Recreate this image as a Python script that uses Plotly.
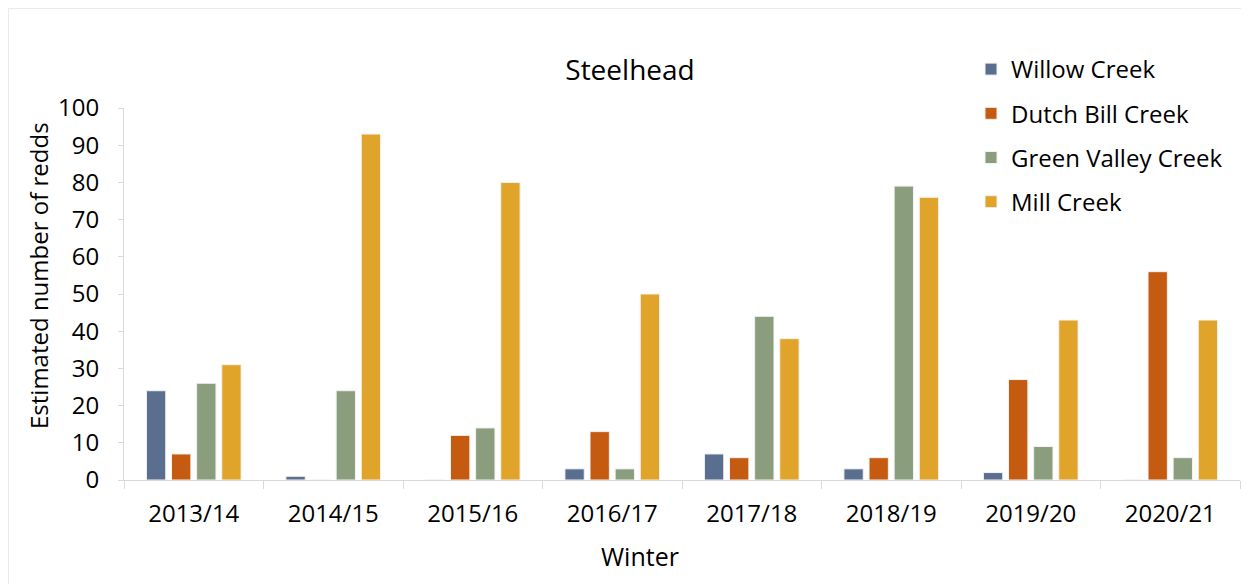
import plotly.graph_objects as go

winters = ["2013/14", "2014/15", "2015/16", "2016/17", "2017/18", "2018/19", "2019/20", "2020/21"]
willow = [24, 1, 0, 3, 7, 3, 2, 0]
dutch_bill = [7, 0, 12, 13, 6, 6, 27, 56]
green_valley = [26, 24, 14, 3, 44, 79, 9, 6]
mill = [31, 93, 80, 50, 38, 76, 43, 43]

series = [
    ("Willow Creek", willow, "#5A6F90"),
    ("Dutch Bill Creek", dutch_bill, "#C55A11"),
    ("Green Valley Creek", green_valley, "#8A9E7D"),
    ("Mill Creek", mill, "#E0A42B"),
]

FONT = "Open Sans"
W, H = 1249, 584
L, R, T, B = 116, 17, 100, 112
PW, PH = W - L - R, H - T - B

fig = go.Figure()
for name, vals, col in series:
    fig.add_trace(go.Bar(
        x=winters, y=vals, name=name, legendgroup=name,
        marker=dict(color=col, line=dict(color="#F2F2F2", width=1)),
    ))

fig.update_layout(
    width=W, height=H,
    paper_bgcolor="white", plot_bgcolor="white",
    margin=dict(l=L, r=R, t=T, b=B),
    barmode="group", bargap=0.28, bargroupgap=0.23,
    font=dict(family=FONT, size=24, color="#000000"),
    title=dict(text="Steelhead", xref="container", x=622 / W, xanchor="center",
               yref="container", y=1 - 62 / H, yanchor="middle",
               font=dict(family=FONT, size=28, color="#000000")),
    legend=dict(x=(963 - L) / PW, xanchor="left", y=1 + (T - 39) / PH, yanchor="top",
                font=dict(family=FONT, size=24, color="#000000"),
                tracegroupgap=10, bgcolor="rgba(0,0,0,0)"),
    xaxis=dict(
        showline=True, linecolor="#D9D9D9", linewidth=1,
        ticks="outside", tickson="boundaries", ticklen=8, tickcolor="#D9D9D9",
        ticklabelstandoff=12,
        tickfont=dict(family=FONT, size=24), showgrid=False,
    ),
    yaxis=dict(
        range=[0, 100], dtick=10, showline=True, linecolor="#D9D9D9", linewidth=1,
        ticks="outside", ticklen=5, tickcolor="#D9D9D9", ticklabelstandoff=14,
        tickfont=dict(family=FONT, size=24), showgrid=False, zeroline=False,
    ),
    annotations=[
        dict(text="Winter", xref="paper", yref="paper",
             x=(632 - L) / PW, y=-(548 - (H - B)) / PH, xanchor="center", yanchor="middle",
             showarrow=False, font=dict(family=FONT, size=25, color="#000000")),
        dict(text="Estimated number of redds", xref="paper", yref="paper",
             x=-(L - 30) / PW, y=1 - (268 - T) / PH, xanchor="center", yanchor="middle",
             textangle=-90, showarrow=False, font=dict(family=FONT, size=24, color="#000000")),
    ],
    shapes=[dict(type="rect", xref="paper", yref="paper",
                 x0=-(L - 0.5) / PW, x1=1 + (R + 10) / PW,
                 y0=-(B + 10) / PH, y1=1 + (T - 0.5) / PH,
                 line=dict(color="#EBEBEB", width=1), fillcolor="rgba(0,0,0,0)")],
)

fig.write_html("out.html")
